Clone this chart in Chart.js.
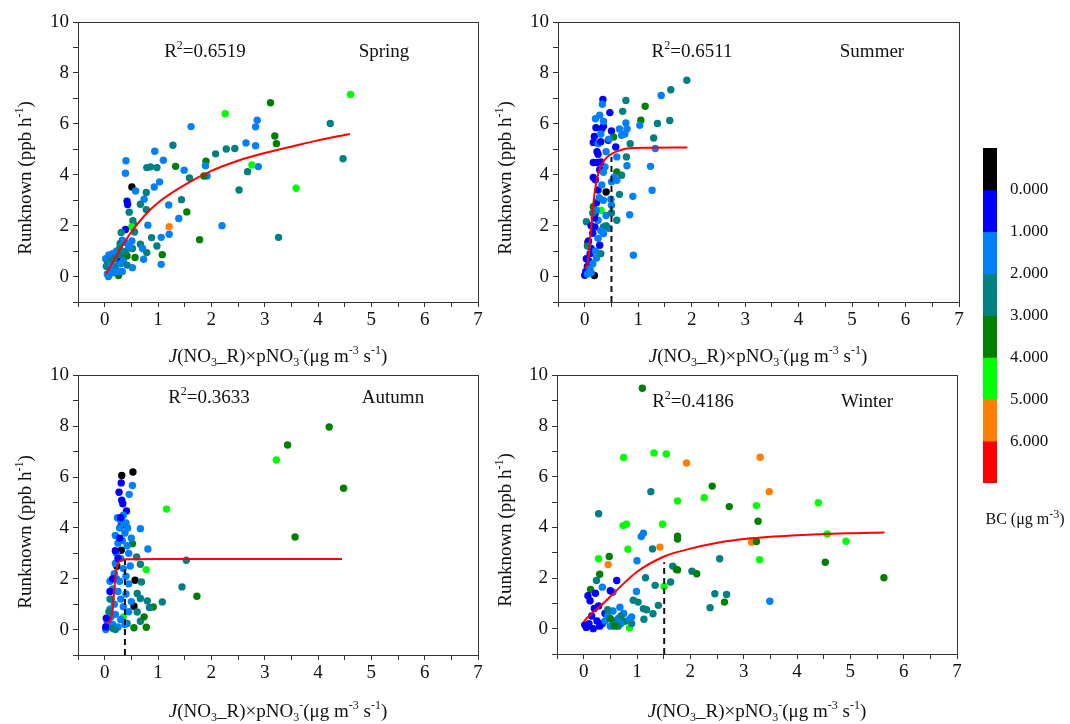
<!DOCTYPE html>
<html><head><meta charset="utf-8">
<script src="https://cdn.jsdelivr.net/npm/chart.js@4.4.1/dist/chart.umd.min.js"></script>
<style>
body{margin:0;background:#fff;width:1070px;height:724px;position:relative;overflow:hidden;font-family:'Liberation Serif','Times New Roman',serif;color:#111}
canvas{position:absolute}
.t{position:absolute;font-size:19px;white-space:nowrap;line-height:1}
.c{transform:translate(-50%,-50%)}
.r{transform:translate(-50%,-50%) rotate(-90deg)}
sub,sup{font-size:12px;line-height:0}
</style></head><body>
<canvas id="spring"></canvas>
<canvas id="summer"></canvas>
<canvas id="autumn"></canvas>
<canvas id="winter"></canvas>
<canvas id="cbar"></canvas>

<div class="t c" style="left:205px;top:50px">R<sup>2</sup>=0.6519</div>
<div class="t c" style="left:384px;top:50px">Spring</div>
<div class="t c" style="left:692px;top:50px">R<sup>2</sup>=0.6511</div>
<div class="t c" style="left:872px;top:50px">Summer</div>
<div class="t c" style="left:209px;top:396px">R<sup>2</sup>=0.3633</div>
<div class="t c" style="left:393px;top:396px">Autumn</div>
<div class="t c" style="left:693px;top:400px">R<sup>2</sup>=0.4186</div>
<div class="t c" style="left:867px;top:400px">Winter</div>

<div class="t c" style="left:278px;top:355px"><i>J</i>(NO<sub>3</sub>_R)×pNO<sub>3</sub><sup>-</sup>(μg m<sup>-3</sup> s<sup>-1</sup>)</div>
<div class="t c" style="left:758px;top:355px"><i>J</i>(NO<sub>3</sub>_R)×pNO<sub>3</sub><sup>-</sup>(μg m<sup>-3</sup> s<sup>-1</sup>)</div>
<div class="t c" style="left:278px;top:710px"><i>J</i>(NO<sub>3</sub>_R)×pNO<sub>3</sub><sup>-</sup>(μg m<sup>-3</sup> s<sup>-1</sup>)</div>
<div class="t c" style="left:757px;top:710px"><i>J</i>(NO<sub>3</sub>_R)×pNO<sub>3</sub><sup>-</sup>(μg m<sup>-3</sup> s<sup>-1</sup>)</div>

<div class="t r" style="left:24px;top:178px">Runknown (ppb h<sup>-1</sup>)</div>
<div class="t r" style="left:504px;top:178px">Runknown (ppb h<sup>-1</sup>)</div>
<div class="t r" style="left:24px;top:532px">Runknown (ppb h<sup>-1</sup>)</div>
<div class="t r" style="left:504px;top:530px">Runknown (ppb h<sup>-1</sup>)</div>

<div class="t c" style="left:1025px;top:519px;font-size:16px">BC (μg m<sup>-3</sup>)</div>

<script>
// BC class values: -0.5 black, 0.5 blue, 1.5 light blue, 2.5 teal, 3.5 dark green, 4.5 green, 5.5 orange
const K=-0.5,B=0.5,L=1.5,T=2.5,D=3.5,G=4.5,O=5.5;

const springX=[4.61,2.26,3.11,4.23,1.62,2.86,2.83,3.19,3.22,2.65,2.83,1.28,0.94,2.28,2.44,2.08,4.47,1.10,0.40,1.90,
1.33,0.79,0.86,0.98,2.88,2.76,1.49,0.39,1.89,1.92,1.86,2.68,1.59,1.03,0.93,0.51,2.52,0.58,3.59,0.78,
0.74,1.44,0.42,0.43,0.67,1.20,0.78,0.46,1.54,1.39,2.20,0.81,0.53,0.54,1.21,0.51,0.39,0.31,0.56,1.06,
1.21,0.88,1.78,3.26,0.51,0.33,0.29,0.67,0.71,0.52,0.98,0.79,1.08,0.42,0.57,0.73,0.24,1.06,0.52,0.26,
0.02,0.05,0.08,0.12,0.15,0.10,0.05,0.20,0.25,0.30,0.18,0.03,0.07,0.22,0.28,0.35,0.33,0.40,0.45,0.15,0.12,0.30,0.38,0.42];
const springY=[7.15,6.40,6.83,6.01,5.89,6.14,5.88,5.52,5.22,5.25,5.14,5.16,4.92,5.01,5.03,4.82,4.63,4.57,4.55,4.53,
4.33,4.28,4.31,4.28,4.32,4.38,4.18,4.06,4.35,3.95,3.95,4.12,3.87,3.72,3.52,3.52,3.40,3.36,3.47,3.30,
3.04,3.02,2.96,2.83,2.84,2.81,2.63,2.53,2.54,2.28,2.00,2.02,2.19,2.05,1.96,1.95,1.85,1.73,1.75,1.54,
1.66,1.53,1.45,1.54,1.40,1.43,1.30,1.27,1.10,1.10,1.20,0.94,0.86,0.81,0.75,0.68,0.69,0.48,0.35,0.04,
0.70,0.50,0.85,0.60,0.90,0.30,0.10,0.40,0.20,0.50,0.70,0.40,0.00,1.00,1.10,0.60,0.20,1.00,1.20,0.15,0.45,0.85,1.35,0.45];
const springBC=[G,G,D,T,L,L,L,D,D,L,L,T,L,T,T,T,T,L,L,D,
D,T,T,T,L,G,L,L,L,L,D,T,T,L,L,K,T,L,G,T,
L,T,B,B,T,L,T,T,D,L,L,L,T,T,O,G,B,T,T,L,
L,T,D,T,L,L,T,T,L,T,T,T,D,D,D,L,B,L,L,D,
L,T,L,T,L,L,L,T,L,L,T,T,L,L,T,L,L,T,L,L,L,T,L,T];
const springFitX=[0.03,0.2,0.5,0.75,1,1.5,2,2.5,3,3.5,4,4.6];
const springFitY=[0.1,0.75,1.75,2.4,2.9,3.6,4.15,4.55,4.85,5.1,5.35,5.6];

const summerX=[1.91,1.61,1.43,0.77,0.34,0.33,1.13,0.71,0.47,0.28,1.59,1.05,1.03,1.36,0.77,0.21,0.32,0.50,0.79,0.69,
0.54,1.29,0.16,0.25,0.44,0.85,0.58,0.23,1.32,0.78,0.79,0.16,0.23,0.38,1.23,0.60,0.69,0.16,0.50,0.60,
0.40,1.26,0.65,0.90,0.35,0.49,0.84,0.16,0.31,0.25,0.60,0.03,0.19,0.35,0.35,0.06,0.28,0.91,0.22,0.09,0.18,
0.00,0.02,0.05,0.08,0.03,0.10,0.12,0.07,0.15,0.12,0.18,0.20,0.22,0.25,0.20,0.28,0.30,0.25,0.30,0.18,0.35,
0.05,0.10,0.15,0.20,0.25,0.30,0.22,0.27,0.32,0.35,0.40,0.45,0.30,0.35,0.20,0.40,0.45,0.12,0.50,0.55,0.60,0.65,0.75,
0.15,0.05,0.30,0.40,0.50];
const summerY=[7.71,7.34,7.11,6.92,6.96,6.77,6.69,6.49,6.44,6.34,6.13,6.14,5.94,6.01,6.03,5.85,5.81,5.72,5.80,5.55,
5.48,5.44,5.27,5.22,5.35,5.22,5.09,4.90,5.03,4.70,4.35,4.48,4.48,4.31,4.33,4.11,3.98,3.89,3.72,3.78,
3.32,3.39,3.23,3.15,3.00,3.04,2.43,2.74,2.60,2.21,2.21,2.15,1.95,1.95,1.69,1.34,1.23,0.84,0.73,0.38,0.04,
0.05,0.20,0.40,0.60,0.70,0.90,1.10,1.40,1.70,2.00,2.30,2.50,2.90,3.40,3.80,4.20,4.50,4.80,5.30,5.50,5.90,
0.10,0.30,0.50,1.00,1.50,1.80,2.60,3.10,3.60,4.10,4.90,5.40,5.60,6.10,6.20,2.40,1.90,0.15,2.80,3.90,4.70,5.80,5.60,
2.50,1.20,0.90,2.00,2.50];
const summerBC=[T,T,L,T,B,L,D,T,B,L,T,D,L,T,L,B,B,B,L,L,
D,T,B,L,B,T,B,B,L,T,L,B,B,L,L,D,T,B,L,L,
K,L,T,L,L,L,L,D,G,L,T,T,B,T,L,K,B,L,L,L,K,
B,B,B,B,B,B,B,B,B,B,B,B,B,B,B,B,B,B,B,B,B,
L,L,L,L,L,L,L,L,L,L,L,L,L,L,L,L,L,L,L,L,L,L,L,
T,T,T,T,T];
const summerFitX=[0.01,0.06,0.11,0.16,0.2,0.25,0.29,0.4,0.51,0.65,0.79,1.2,1.92];
const summerFitY=[0.31,0.6,1.7,2.8,3.5,4.0,4.3,4.65,4.83,4.95,5.03,5.06,5.07];
const summerDashX=0.5, summerDashTop=4.7;

const autumnX=[4.21,3.43,3.22,4.48,3.57,1.16,1.53,1.45,1.73,1.08,0.91,0.78,0.55,0.78,0.35,0.32,0.53,0.31,0.52,0.27,
0.46,0.32,0.34,0.41,0.31,0.67,0.81,0.31,0.57,0.55,0.23,0.60,0.67,0.69,0.61,0.67,0.80,0.84,0.61,0.67,0.74,0.42,0.52,
0.05,0.08,0.10,0.12,0.15,0.10,0.18,0.20,0.22,0.25,0.20,0.28,0.30,0.35,0.40,0.38,0.33,0.42,0.45,0.30,0.35,0.40,0.28,
0.25,0.30,0.35,0.20,0.15,0.25,0.30,0.45,0.40,0.45,0.48,0.50,0.43,0.24,0.36,0.12,0.18,0.05,0.02,0.50,0.38,0.22,
0.03,0.02,0.20,0.25,0.15,0.28,0.30,0.10,
0.10,0.08,0.15,0.20];
const autumnY=[7.97,7.26,6.67,5.56,3.64,4.74,2.73,1.68,1.31,1.09,0.89,0.09,0.07,2.36,0.50,6.06,6.20,5.77,5.67,5.40,
5.32,5.09,4.95,4.67,4.09,3.97,3.17,3.12,1.94,0.92,2.49,2.86,2.57,1.87,1.42,1.22,1.13,0.87,0.69,0.33,0.50,0.24,3.38,
0.10,0.40,0.80,1.20,1.60,1.90,2.20,2.60,3.00,3.40,3.70,4.00,4.30,4.50,4.20,3.80,3.50,3.30,3.00,2.80,2.40,2.10,1.90,
1.50,1.20,0.90,0.60,0.20,0.10,0.40,0.70,1.40,1.80,2.50,3.60,4.00,4.40,4.20,0.50,1.00,0.30,0.00,1.10,0.20,2.00,
0.45,0.10,3.10,2.80,2.00,3.60,4.40,1.50,
1.20,0.70,0.05,0.00];
const autumnBC=[D,D,G,D,D,G,T,T,D,T,D,D,D,G,G,K,K,B,L,B,
L,B,B,B,K,L,L,K,K,K,K,T,T,T,T,T,T,T,T,T,D,T,D,
L,L,L,L,L,L,L,L,L,L,L,L,L,L,L,L,L,L,L,L,L,L,L,
L,L,L,L,L,L,L,L,L,L,L,L,L,L,L,L,L,L,L,L,L,L,
B,B,B,B,B,B,B,B,
T,T,T,T];
const autumnFitX=[0.03,0.1,0.14,0.17,0.2,0.24,0.3,0.4,1,2,3,4.45];
const autumnFitY=[0.24,0.35,0.6,1.3,2.0,2.55,2.72,2.77,2.78,2.78,2.78,2.78];
const autumnDashX=0.38, autumnDashTop=2.75;

const winterX=[1.10,0.75,1.32,1.55,1.93,3.31,2.41,1.26,3.48,2.26,1.76,4.40,2.73,3.24,0.28,3.27,0.74,0.80,1.48,1.12,
1.08,1.76,1.76,4.57,4.92,3.15,3.24,1.43,1.29,0.83,0.48,0.28,2.55,3.30,4.53,1.00,0.46,1.67,1.74,1.76,
2.03,2.12,0.30,1.16,5.63,0.24,1.63,1.51,1.34,0.13,0.35,0.55,0.99,2.46,2.68,0.93,1.02,2.64,3.49,2.37,
1.12,1.18,1.40,1.30,1.13,0.77,0.86,0.90,0.68,
0.05,0.10,0.15,0.20,0.12,0.08,0.25,0.30,0.18,0.22,0.35,0.40,0.50,0.62,0.02,0.28,
0.45,0.55,0.65,0.75,0.50,0.60,0.70,0.85,0.40,
0.55,0.65,0.70,0.90,0.45,0.50,0.58];
const winterY=[9.49,6.76,6.94,6.90,6.54,6.77,5.63,5.41,5.41,5.17,5.04,4.97,4.82,4.86,4.54,4.24,4.07,4.12,4.12,3.77,
3.64,3.65,3.54,3.74,3.45,3.41,3.44,3.22,3.15,3.14,2.85,2.76,2.76,2.72,2.62,2.68,2.53,2.47,2.34,2.32,
2.27,2.17,2.15,2.01,2.01,1.90,1.84,1.67,1.71,1.55,1.64,1.44,1.47,1.38,1.35,1.12,1.05,1.05,1.08,0.83,
0.79,0.75,0.92,0.59,0.37,0.29,0.03,0.46,0.85,
0.05,0.20,0.50,0.80,1.10,1.30,0.30,0.10,0.00,1.40,0.20,0.60,1.50,1.90,0.15,0.90,
0.50,0.70,0.40,0.60,0.10,0.30,0.20,0.35,0.30,
0.30,0.10,0.50,0.20,0.75,0.40,0.10];
const winterBC=[D,G,G,G,O,O,D,T,O,G,G,G,D,G,T,D,G,G,G,L,
L,D,D,G,G,O,D,O,T,G,D,G,T,G,D,L,O,T,D,D,
T,D,D,T,D,T,T,G,T,D,L,L,L,T,T,T,T,D,L,T,
T,T,T,T,T,D,G,L,L,
B,B,B,B,B,B,B,B,B,B,B,B,B,B,B,B,
L,L,L,L,L,L,L,L,L,
T,T,T,T,T,D,D];
const winterFitX=[0.0,0.05,0.36,0.68,0.99,1.51,1.93,2.56,3.06,4.0,4.94,5.64];
const winterFitY=[0.26,0.39,0.98,1.64,2.23,2.85,3.12,3.41,3.55,3.69,3.77,3.80];
const winterDashX=1.51, winterDashTop=2.62;

const cbarLevels=[-1,0,1,2,3,4,5,6];
const cbarColors=['#000000','#0000ff','#0080ff','#008080','#008000','#00ff00','#ff8000','#ff0000'];
const cbarTickValues=[0,1,2,3,4,5,6];

function bcColor(v){ return cbarColors[Math.min(7,Math.floor(v)+1)]; }

const FONT="'Liberation Serif','Times New Roman',serif";
const boxPlugin={id:'box',afterDraw(ch){const a=ch.chartArea,c=ch.ctx;c.save();c.strokeStyle='#333';c.lineWidth=1;
  c.strokeRect(Math.round(a.left)+0.5,Math.round(a.top)+0.5,Math.round(a.right-a.left),Math.round(a.bottom-a.top));c.restore();}};

function panel(id,left,top,area,X,Y,BC,fitX,fitY,dashX,dashTop){
  const W=490,H=345;
  const cv=document.getElementById(id);
  cv.width=W;cv.height=H;cv.style.left=left+'px';cv.style.top=top+'px';
  const datasets=[
    {type:'scatter',data:X.map((x,i)=>({x:x,y:Y[i]})),pointRadius:3.7,pointHoverRadius:3.7,
     pointBackgroundColor:BC.map(bcColor),pointBorderWidth:0,order:3},
    {type:'line',data:fitX.map((x,i)=>({x:x,y:fitY[i]})),borderColor:'#ff0000',borderWidth:2,pointRadius:0,
     cubicInterpolationMode:'monotone',fill:false,order:1}
  ];
  if(dashX!=null) datasets.push({type:'line',data:[{x:dashX,y:-1},{x:dashX,y:dashTop}],borderColor:'#111',
     borderWidth:2,borderDash:[6,4],pointRadius:0,fill:false,order:2});
  const gridOpt={display:true,drawOnChartArea:false,drawTicks:true,tickLength:5,color:'#333'};
  new Chart(cv,{type:'scatter',data:{datasets},plugins:[boxPlugin],options:{
    responsive:false,animation:false,events:[],
    layout:{padding:{left:0,top:area.t,right:W-area.r,bottom:0}},
    plugins:{legend:{display:false},tooltip:{enabled:false}},
    scales:{
      x:{type:'linear',min:-0.5,max:7,afterFit:s=>{s.height=H-area.b;},
         ticks:{stepSize:0.5,autoSkip:false,maxRotation:0,padding:2,color:'#111',font:{family:FONT,size:19},
           callback:v=>Number.isInteger(v)&&v>=0?String(v):''},
         grid:gridOpt,border:{display:true,color:'#333',width:1}},
      y:{type:'linear',min:-1,max:10,afterFit:s=>{s.width=area.l;},
         ticks:{stepSize:1,autoSkip:false,padding:4,color:'#111',font:{family:FONT,size:19},
           callback:v=>(v>=0&&v%2===0)?String(v):''},
         grid:gridOpt,border:{display:true,color:'#333',width:1}}
    }}});
}

panel('spring',0,0,{l:78,t:22,r:478,b:302},springX,springY,springBC,springFitX,springFitY,null,null);
panel('summer',480,0,{l:78,t:22,r:479,b:302},summerX,summerY,summerBC,summerFitX,summerFitY,summerDashX,summerDashTop);
panel('autumn',0,360,{l:78,t:15,r:478,b:295},autumnX,autumnY,autumnBC,autumnFitX,autumnFitY,autumnDashX,autumnDashTop);
panel('winter',480,360,{l:77,t:14,r:477,b:294},winterX,winterY,winterBC,winterFitX,winterFitY,winterDashX,winterDashTop);

(function(){
  const W=110,H=400;
  const cv=document.getElementById('cbar');
  cv.width=W;cv.height=H;cv.style.left='960px';cv.style.top='130px';
  new Chart(cv,{type:'bar',data:{labels:['BC'],datasets:cbarLevels.map((lv,i)=>({data:[[lv,lv+1]],
    backgroundColor:cbarColors[i],borderWidth:0,barPercentage:1,categoryPercentage:1}))},
   options:{responsive:false,animation:false,events:[],
    layout:{padding:{left:23,top:18,right:0,bottom:47}},
    plugins:{legend:{display:false},tooltip:{enabled:false}},
    scales:{x:{stacked:true,display:false},
      y:{position:'right',min:-1,max:7,reverse:true,
        afterFit:s=>{s.width=W-23-14;s.paddingTop=0;s.paddingBottom=0;},
        afterBuildTicks:s=>{s.ticks=cbarTickValues.map(v=>({value:v}));},
        ticks:{padding:13,color:'#111',font:{family:FONT,size:17},callback:v=>Number(v).toFixed(3)},
        grid:{display:false,drawTicks:false},border:{display:false}}}}});
})();
</script>
</body></html>
